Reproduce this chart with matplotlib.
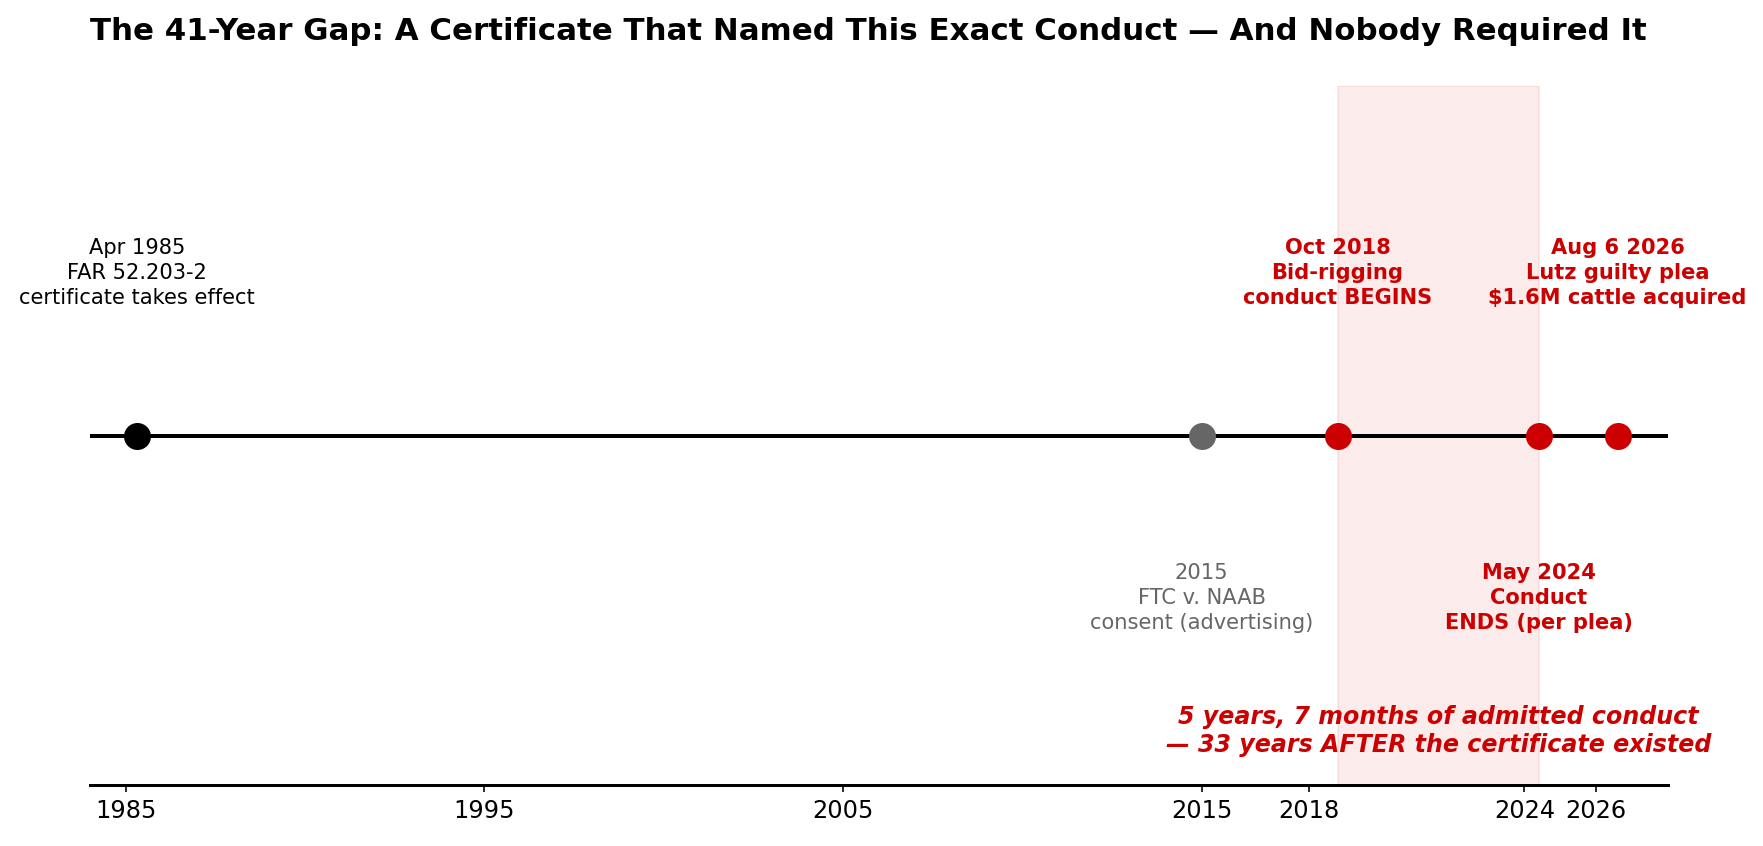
import matplotlib
matplotlib.use("Agg")
import matplotlib.pyplot as plt

# -------- DATA ----------
event_years = [1985.31, 2015.0, 2018.79, 2024.41, 2026.6]
event_labels = [
    "Apr 1985\nFAR 52.203-2\ncertificate takes effect",
    "2015\nFTC v. NAAB\nconsent (advertising)",
    "Oct 2018\nBid-rigging\nconduct BEGINS",
    "May 2024\nConduct\nENDS (per plea)",
    "Aug 6 2026\nLutz guilty plea\n$1.6M cattle acquired",
]
event_side = [1, -1, 1, -1, 1]          # above / below the line
event_kind = ["base", "minor", "key", "key", "key"]
tick_years = [1985, 1995, 2005, 2015, 2018, 2024, 2026]
conduct_start, conduct_end = 2018.79, 2024.41
# ------------------------

RED = "#cc0000"
GREY = "#666666"
colors = {"base": "black", "minor": GREY, "key": RED}

DPI = 144
fig = plt.figure(figsize=(1763 / DPI, 846 / DPI), dpi=DPI)
ax = fig.add_axes([0.051, 0.072, 0.895, 0.826])

ax.axvspan(conduct_start, conduct_end, color=RED, alpha=0.08, zorder=0)
ax.axhline(0, color="black", lw=2, zorder=1)

for yr, lab, side, kind in zip(event_years, event_labels, event_side, event_kind):
    c = colors[kind]
    ax.plot(yr, 0, "o", color=c, markersize=12.5, zorder=3)
    ax.text(yr, 0.465 * side, lab, ha="center", va="center", fontsize=10.5,
            color=c, fontweight="bold" if kind == "key" else "normal",
            linespacing=1.3)

ax.text((conduct_start + conduct_end) / 2, -0.845,
        "5 years, 7 months of admitted conduct\n\u2014 33 years AFTER the certificate existed",
        ha="center", va="center", fontsize=11.85, color=RED,
        fontweight="bold", fontstyle="italic", linespacing=1.25)

ax.set_xlim(1984, 2028)
ax.set_ylim(-1, 1)
ax.set_xticks(tick_years)
ax.set_xticklabels([str(t) for t in tick_years], fontsize=12)
ax.set_yticks([])
for s in ["top", "left", "right"]:
    ax.spines[s].set_visible(False)
ax.spines["bottom"].set_linewidth(1.5)

fig.text(0.051, 1 - 28 / 752,
         "The 41-Year Gap: A Certificate That Named This Exact Conduct \u2014 And Nobody Required It",
         ha="left", va="center", fontsize=15.45, fontweight="bold")

fig.savefig("out.png", dpi=DPI)
